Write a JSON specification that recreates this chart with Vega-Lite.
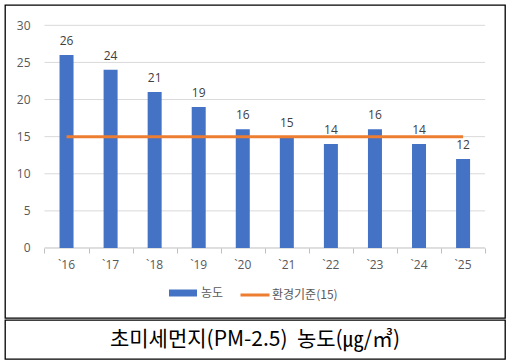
{
  "$schema": "https://vega.github.io/schema/vega-lite/v6.json",
  "padding": {"left": 4, "top": 4, "right": 6, "bottom": 4},
  "background": "white",
  "spacing": 0,
  "config": {
    "font": "Open Sans",
    "view": {"stroke": "#000000", "strokeWidth": 1.3},
    "axisY": {"offset": -35, "domain": false, "ticks": false, "tickSize": 0, "grid": false, "labelPadding": 10, "labelColor": "#595959", "labelFontSize": 12, "title": null},
    "axisX": {"offset": -70, "domain": false, "labels": false, "ticks": true, "tickSize": 5, "tickColor": "#BFBFBF", "grid": false, "title": null}
  },
  "datasets": {
    "pm": [
      {"year": "`16", "i": 0, "value": 26, "series": "농도"},
      {"year": "`17", "i": 1, "value": 24, "series": "농도"},
      {"year": "`18", "i": 2, "value": 21, "series": "농도"},
      {"year": "`19", "i": 3, "value": 19, "series": "농도"},
      {"year": "`20", "i": 4, "value": 16, "series": "농도"},
      {"year": "`21", "i": 5, "value": 15, "series": "농도"},
      {"year": "`22", "i": 6, "value": 14, "series": "농도"},
      {"year": "`23", "i": 7, "value": 16, "series": "농도"},
      {"year": "`24", "i": 8, "value": 14, "series": "농도"},
      {"year": "`25", "i": 9, "value": 12, "series": "농도"}
    ],
    "std": [
      {"i": 0, "value": 15, "standard": "환경기준(15)"},
      {"i": 1, "value": 15, "standard": "환경기준(15)"},
      {"i": 2, "value": 15, "standard": "환경기준(15)"},
      {"i": 3, "value": 15, "standard": "환경기준(15)"},
      {"i": 4, "value": 15, "standard": "환경기준(15)"},
      {"i": 5, "value": 15, "standard": "환경기준(15)"},
      {"i": 6, "value": 15, "standard": "환경기준(15)"},
      {"i": 7, "value": 15, "standard": "환경기준(15)"},
      {"i": 8, "value": 15, "standard": "환경기준(15)"},
      {"i": 9, "value": 15, "standard": "환경기준(15)"}
    ],
    "grid": [
      {"value": 0}, {"value": 5}, {"value": 10}, {"value": 15},
      {"value": 20}, {"value": 25}, {"value": 30}
    ]
  },
  "vconcat": [
    {
      "width": 500,
      "height": 313,
      "view": {"stroke": "#000000", "strokeWidth": 1.3},
      "layer": [
        {
          "data": {"name": "grid"},
          "mark": {"type": "rule", "strokeWidth": 1},
          "encoding": {
            "y": {
              "field": "value", "type": "quantitative",
              "scale": {"domain": [-9.43, 32.735], "nice": false, "zero": false},
              "axis": {"values": [0, 5, 10, 15, 20, 25, 30]}
            },
            "x": {
              "datum": -0.5, "type": "quantitative",
              "scale": {"domain": [-1.283, 9.838], "nice": false, "zero": false},
              "axis": {"values": [-0.5, 0.5, 1.5, 2.5, 3.5, 4.5, 5.5, 6.5, 7.5, 8.5, 9.5]}
            },
            "x2": {"datum": 9.5},
            "color": {"condition": {"test": "datum.value === 0", "value": "#BFBFBF"}, "value": "#D9D9D9"}
          }
        },
        {
          "data": {"name": "pm"},
          "mark": {"type": "bar", "size": 14, "orient": "vertical"},
          "encoding": {
            "x": {"field": "i", "type": "quantitative", "scale": {"domain": [-1.283, 9.838], "nice": false, "zero": false}},
            "y": {"field": "value", "type": "quantitative", "scale": {"domain": [-9.43, 32.735], "nice": false, "zero": false}},
            "y2": {"datum": 0},
            "fill": {
              "field": "series", "type": "nominal",
              "scale": {"domain": ["농도"], "range": ["#4472C4"]},
              "legend": {
                "orient": "none", "legendX": 164, "legendY": 274, "title": null,
                "symbolType": "M-1,-0.25H1V0.25H-1Z", "symbolSize": 784,
                "symbolStrokeWidth": 0, "labelOffset": 4,
                "labelFont": "Noto Sans CJK KR", "labelFontSize": 12, "labelColor": "#595959"
              }
            }
          }
        },
        {
          "data": {"name": "pm"},
          "mark": {"type": "text", "baseline": "bottom", "dy": -7, "fontSize": 12, "color": "#404040"},
          "encoding": {
            "x": {"field": "i", "type": "quantitative", "scale": {"domain": [-1.283, 9.838], "nice": false, "zero": false}},
            "y": {"field": "value", "type": "quantitative", "scale": {"domain": [-9.43, 32.735], "nice": false, "zero": false}},
            "text": {"field": "value", "type": "quantitative"}
          }
        },
        {
          "data": {"name": "pm"},
          "mark": {"type": "text", "baseline": "middle", "fontSize": 12, "color": "#595959"},
          "encoding": {
            "x": {"field": "i", "type": "quantitative", "scale": {"domain": [-1.283, 9.838], "nice": false, "zero": false}},
            "y": {"datum": -2.3, "type": "quantitative", "scale": {"domain": [-9.43, 32.735], "nice": false, "zero": false}},
            "text": {"field": "year", "type": "nominal"}
          }
        },
        {
          "data": {"name": "std"},
          "mark": {"type": "line", "strokeWidth": 3},
          "encoding": {
            "x": {"field": "i", "type": "quantitative", "scale": {"domain": [-1.283, 9.838], "nice": false, "zero": false}},
            "y": {"field": "value", "type": "quantitative", "scale": {"domain": [-9.43, 32.735], "nice": false, "zero": false}},
            "stroke": {
              "field": "standard", "type": "nominal",
              "scale": {"domain": ["환경기준(15)"], "range": ["#ED7D31"]},
              "legend": {
                "orient": "none", "legendX": 234, "legendY": 274, "title": null,
                "symbolType": "stroke", "symbolSize": 841, "symbolStrokeWidth": 3,
                "labelOffset": 1,
                "labelFont": "Noto Sans CJK KR", "labelFontSize": 12, "labelColor": "#595959"
              }
            }
          }
        }
      ]
    },
    {
      "width": 500,
      "height": 39,
      "view": {"stroke": "#000000", "strokeWidth": 1.3},
      "data": {"values": [{"t": "초미세먼지(PM-2.5)\u00a0\u00a0농도(㎍/㎥)"}]},
      "mark": {"type": "text", "fontSize": 21, "font": "Noto Sans CJK KR", "color": "#000000", "baseline": "middle"},
      "encoding": {"text": {"field": "t", "type": "nominal"}}
    }
  ]
}
